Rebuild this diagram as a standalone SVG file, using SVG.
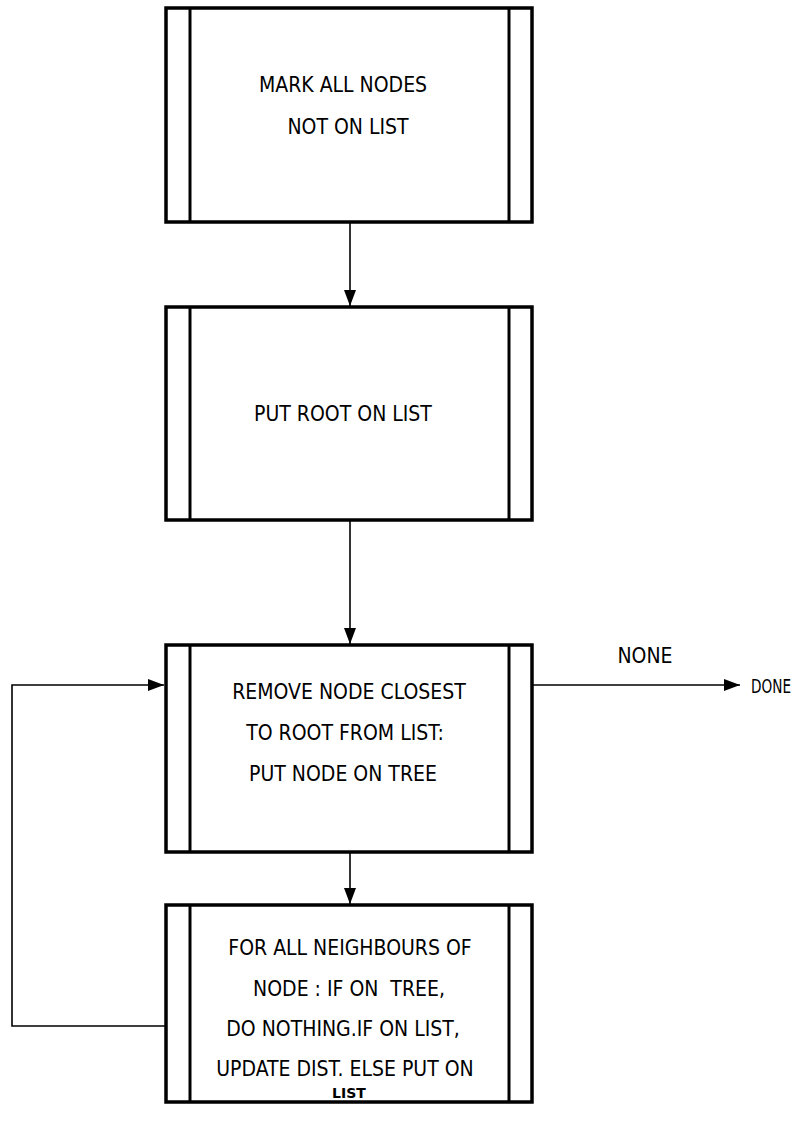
<svg xmlns="http://www.w3.org/2000/svg" width="804" height="1123" viewBox="0 0 804 1123">
<style>
.box{fill:#fff;stroke:#000;stroke-width:3.5}
.bar{stroke:#000;stroke-width:3}
.t{font-family:"DejaVu Sans Condensed","DejaVu Sans",sans-serif;font-stretch:condensed;font-size:21px;fill:#000;text-anchor:middle}
.s{font-family:"DejaVu Sans","Liberation Sans",sans-serif;font-size:14px;font-weight:bold;fill:#000;text-anchor:middle}
.c{fill:none;stroke:#000;stroke-width:1.6}
</style>
<defs>
<marker id="ah" markerWidth="16" markerHeight="14" refX="16" refY="7" orient="auto" markerUnits="userSpaceOnUse">
<path d="M0,1 L16,7 L0,13 Z" fill="#000"/>
</marker>
</defs>
<g id="connectors">
<line class="c" x1="350" y1="222" x2="350" y2="306" marker-end="url(#ah)"/>
<line class="c" x1="350" y1="520" x2="350" y2="644" marker-end="url(#ah)"/>
<line class="c" x1="350" y1="852" x2="350" y2="904" marker-end="url(#ah)"/>
<line class="c" x1="533" y1="685" x2="740" y2="685" marker-end="url(#ah)"/>
<polyline class="c" points="165,1026 12,1026 12,685 164,685" marker-end="url(#ah)"/>
<text class="t" x="645" y="663">NONE</text>
<text class="t" x="751" y="693" style="text-anchor:start;font-size:20px" textLength="40" lengthAdjust="spacingAndGlyphs">DONE</text>
</g>
<g id="n1">
<rect class="box" x="166" y="8" width="366" height="214"/>
<line class="bar" x1="190" y1="8" x2="190" y2="222"/>
<line class="bar" x1="509" y1="8" x2="509" y2="222"/>
<text class="t" x="343" y="92">MARK ALL NODES</text>
<text class="t" x="348" y="134">NOT ON LIST</text>
</g>
<g id="n2">
<rect class="box" x="166" y="307" width="366" height="213"/>
<line class="bar" x1="190" y1="307" x2="190" y2="520"/>
<line class="bar" x1="509" y1="307" x2="509" y2="520"/>
<text class="t" x="343" y="421">PUT ROOT ON LIST</text>
</g>
<g id="n3">
<rect class="box" x="166" y="645" width="366" height="207"/>
<line class="bar" x1="190" y1="645" x2="190" y2="852"/>
<line class="bar" x1="509" y1="645" x2="509" y2="852"/>
<text class="t" x="349" y="699">REMOVE NODE CLOSEST</text>
<text class="t" x="345" y="740">TO ROOT FROM LIST:</text>
<text class="t" x="343" y="781">PUT NODE ON TREE</text>
</g>
<g id="n4">
<rect class="box" x="166" y="905" width="366" height="197"/>
<line class="bar" x1="190" y1="905" x2="190" y2="1102"/>
<line class="bar" x1="509" y1="905" x2="509" y2="1102"/>
<text class="t" x="350" y="955">FOR ALL NEIGHBOURS OF</text>
<text class="t" x="349" y="996" xml:space="preserve">NODE : IF ON  TREE,</text>
<text class="t" x="343" y="1036">DO NOTHING.IF ON LIST,</text>
<text class="t" x="345" y="1076">UPDATE DIST. ELSE PUT ON</text>
<text class="s" x="349" y="1098">LIST</text>
</g>
</svg>
